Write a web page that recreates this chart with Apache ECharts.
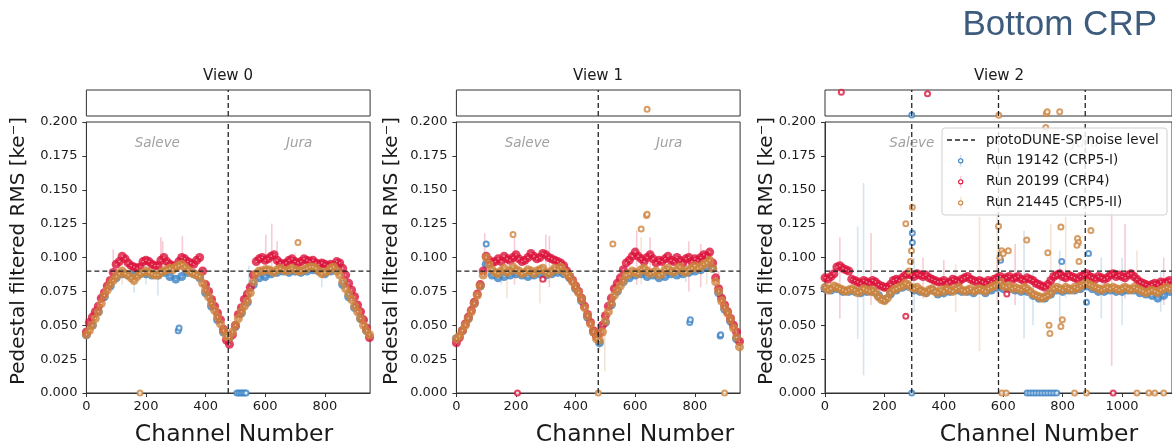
<!DOCTYPE html>
<html><head><meta charset="utf-8">
<script src="https://cdn.jsdelivr.net/npm/echarts@6/dist/echarts.min.js"></script>
<style>html,body{margin:0;padding:0;background:#fff}#c{width:1172px;height:446px}</style>
</head><body><div id="c"></div>
<script>
// ---------------- data ----------------
const viewNames = ['View 0', 'View 1', 'View 2'];
const channelCount = [952, 952, 1168];
const xTickStep = 200;
const yMin = 0, yMax = 0.2, yTickStep = 0.025;
const topMin = 0.2, topMax = 0.3;
const noiseLevel = 0.09;
const dividers = [[476], [476], [292, 584, 876]];
const regionNames = ['Saleve', 'Jura'];
const regionCenters = [[238, 714], [238, 714], [292, 876]];
const runNames = ['Run 19142 (CRP5-I)', 'Run 20199 (CRP4)', 'Run 21445 (CRP5-II)'];
const noiseName = 'protoDUNE-SP noise level';

// sampled channel positions
const steps = (step, n) => Array.from({length: n}, (_, i) => i * step);
const v0_ch10 = steps(10, 96), v0_ch20 = steps(20, 48);
const v1_ch10 = steps(10, 96), v1_ch20 = steps(20, 48);
const v2_ch10 = steps(10, 117), v2_ch20 = steps(20, 59);

// View 0
const v0_blue = [.043,.050,.060,.071,.079,.085,.088,.087,.087,.088,
 .088,.087,.087,.089,.086,.084,.086,.089,.088,.085,
 .074,.064,.054,.045,.041,.049,.059,.067,.080,.085,
 .086,.088,.089,.090,.089,.090,.089,.090,.091,.090,
 .088,.090,.094,.080,.071,.063,.055,.046];
const v0_red = [.045,.052,.056,.060,.064,.070,.074,.079,.083,.089,
 .095,.097,.101,.099,.096,.094,.093,.092,.093,.097,
 .098,.097,.095,.094,.094,.098,.100,.097,.095,.094,
 .093,.097,.100,.099,.097,.096,.095,.098,.100,.090,
 .080,.075,.069,.064,.059,.054,.047,.039,.036,.043,
 .050,.058,.063,.069,.073,.078,.087,.097,.099,.100,
 .098,.099,.101,.102,.098,.096,.095,.096,.098,.099,
 .097,.096,.097,.099,.098,.097,.098,.096,.095,.096,
 .095,.094,.095,.094,.097,.096,.092,.087,.081,.076,
 .071,.065,.060,.054,.048,.041];
const v0_orange = [.043,.046,.050,.055,.060,.066,.072,.076,.080,.083,
 .086,.088,.090,.088,.087,.085,.083,.086,.088,.089,
 .090,.089,.088,.087,.087,.089,.090,.091,.092,.091,
 .093,.094,.095,.093,.091,.089,.088,.087,.086,.081,
 .076,.071,.066,.061,.056,.051,.046,.042,.041,.045,
 .050,.055,.060,.064,.068,.074,.082,.088,.090,.090,
 .091,.091,.090,.089,.091,.092,.091,.090,.091,.092,
 .091,.090,.090,.091,.092,.093,.093,.092,.090,.088,
 .089,.090,.092,.093,.090,.087,.082,.077,.073,.069,
 .064,.060,.055,.050,.046,.043];
const v0_blue_out = [[308,.046],[311,.048],[505,0],[512,0],[518,0],[524,0],[530,0],[536,0]];
const v0_red_out = [];
const v0_orange_out = [[180,0],[710,.111]];
const v0_top = [[], [], []];
const v0_err = [[90,.080,.106,1],[250,.084,.115,1],[256,.088,.112,1],[322,.086,.116,1],[602,.082,.117,1],[622,.088,.125,1],[640,.090,.112,1],
 [160,.074,.096,0],[240,.072,.096,0],[200,.080,.098,0],[790,.078,.098,0],[545,.078,.094,0],
 [120,.080,.098,2],[700,.086,.104,2],[860,.082,.095,2]];

// View 1
const v1_blue = [.040,.046,.055,.066,.079,.095,.087,.085,.086,.087,
 .088,.087,.086,.087,.088,.087,.088,.089,.088,.085,
 .077,.068,.056,.045,.037,.052,.065,.075,.082,.085,
 .087,.088,.086,.087,.085,.086,.088,.087,.088,.089,
 .090,.091,.093,.092,.074,.062,.053,.040];
const v1_red = [.037,.041,.046,.051,.056,.061,.067,.073,.080,.090,
 .101,.098,.096,.097,.099,.097,.101,.099,.098,.100,
 .102,.099,.097,.098,.100,.103,.101,.099,.100,.103,
 .102,.100,.099,.098,.097,.096,.094,.090,.086,.083,
 .079,.075,.070,.064,.058,.052,.046,.042,.044,.050,
 .057,.064,.070,.077,.081,.085,.091,.096,.098,.101,
 .104,.101,.099,.097,.100,.102,.099,.096,.098,.097,
 .099,.101,.098,.097,.100,.098,.096,.099,.100,.097,
 .099,.098,.100,.102,.101,.104,.096,.085,.077,.070,
 .065,.060,.055,.050,.045,.038];
const v1_orange = [.040,.042,.046,.050,.055,.060,.066,.072,.079,.087,
 .100,.095,.091,.089,.088,.090,.092,.089,.090,.093,
 .091,.090,.088,.089,.091,.090,.088,.090,.091,.092,
 .089,.088,.090,.092,.091,.093,.090,.088,.086,.082,
 .078,.074,.069,.063,.057,.051,.045,.040,.039,.045,
 .053,.060,.066,.072,.076,.079,.083,.087,.088,.090,
 .089,.088,.091,.092,.090,.088,.089,.090,.087,.088,
 .091,.092,.090,.089,.091,.093,.090,.089,.091,.092,
 .094,.092,.093,.095,.096,.098,.092,.082,.075,.068,
 .063,.059,.054,.048,.041,.034];
const v1_blue_out = [[100,.110],[783,.052],[785,.054],[885,.042],[887,.043]];
const v1_red_out = [[205,0],[290,.084]];
const v1_orange_out = [[190,.117],[525,.110],[620,.121],[638,.131],[640,.132],[476,0],[900,0]];
const v1_top = [[], [], [[640,.226]]];
const v1_err = [[95,.085,.118,1],[195,.080,.115,1],[300,.082,.117,1],[312,.078,.116,1],[605,.080,.120,1],[650,.085,.115,1],[780,.075,.112,1],[820,.078,.110,1],[880,.065,.090,1],
 [170,.070,.100,2],[280,.066,.095,2],[498,.016,.053,2],[620,.080,.115,2],[840,.080,.105,2],[480,.030,.050,2],
 [150,.080,.095,0],[770,.082,.100,0]];

// View 2
const v2_blue = [.077,.076,.077,.075,.075,.075,.074,.075,.075,.072,
 .069,.073,.076,.078,.079,.076,.075,.074,.076,.073,
 .074,.075,.076,.075,.075,.074,.076,.074,.076,.078,
 .077,.077,.076,.075,.075,.072,.070,.070,.073,.076,
 .075,.076,.076,.077,.079,.077,.075,.075,.076,.075,
 .075,.076,.076,.074,.073,.072,.070,.072,.075];
const v2_red = [.085,.084,.086,.088,.093,.094,.092,.091,.090,.084,
 .083,.082,.081,.083,.082,.081,.083,.082,.080,.079,
 .078,.078,.080,.083,.084,.083,.085,.087,.088,.087,
 .086,.088,.087,.086,.087,.085,.084,.083,.082,.082,
 .083,.081,.082,.084,.083,.082,.084,.085,.086,.084,
 .083,.082,.083,.082,.081,.083,.082,.084,.085,.086,
 .084,.085,.086,.084,.085,.086,.084,.083,.085,.084,
 .083,.081,.080,.079,.078,.080,.083,.086,.087,.088,
 .086,.085,.087,.086,.085,.084,.086,.087,.088,.086,
 .085,.084,.086,.085,.084,.085,.087,.088,.086,.087,
 .086,.085,.087,.088,.086,.084,.082,.081,.080,.079,
 .080,.081,.080,.082,.081,.082,.083];
const v2_orange = [.078,.076,.077,.079,.078,.077,.076,.075,.076,.077,
 .076,.074,.075,.077,.076,.075,.076,.074,.071,.069,
 .068,.070,.074,.076,.077,.078,.079,.081,.080,.078,
 .077,.078,.076,.075,.074,.076,.077,.075,.074,.076,
 .075,.077,.076,.075,.077,.078,.076,.075,.076,.077,
 .075,.076,.077,.076,.075,.077,.078,.079,.080,.082,
 .079,.078,.079,.077,.078,.077,.076,.078,.077,.075,
 .073,.072,.071,.070,.071,.072,.074,.077,.078,.077,
 .076,.078,.077,.076,.078,.077,.079,.080,.081,.080,
 .079,.078,.077,.076,.077,.078,.077,.078,.077,.076,
 .077,.078,.077,.076,.078,.077,.076,.075,.074,.075,
 .076,.075,.074,.076,.077,.078,.077];
const v2_blue_out = [[294,.118],[294,.111],[591,.098],[797,.097],[887,.103],[880,.067],[292,0],
 [680,0],[690,0],[700,0],[710,0],[720,0],[730,0],[740,0],[750,0],[760,0],[770,0],[780,0]];
const v2_red_out = [[272,.0566],[612,.073],[970,0]];
const v2_orange_out = [[272,.125],[294,.137],[291,.105],[288,.097],[283,.090],[584,.123],[589,.100],[595,.105],[600,.103],[617,.105],
 [679,.113],[743,.196],[750,.1035],[794,.1225],[850,.114],[853,.111],[848,.109],[855,.097],[895,.120],
 [754,.050],[757,.044],[794,.049],[799,.054],[595,0],[610,0],[840,0],[880,0],[1050,0],[1090,0],[1110,0],[1140,0]];
const v2_top = [[[292,.204]], [[55,.291],[345,.286]], [[585,.203],[745,.210],[748,.216],[790,.2165]]];
const v2_err = [[110,.040,.123,0],[130,.013,.155,0],[300,.060,.100,0],[670,.040,.120,0],[790,.050,.105,0],[700,.050,.090,0],[1000,.050,.100,0],[1130,.060,.090,0],[930,.055,.100,0],
 [50,.055,.115,1],[155,.065,.118,1],[330,.070,.100,1],[400,.070,.098,1],[640,.065,.110,1],[965,.020,.140,1],[1010,.070,.125,1],[1140,.065,.100,1],[580,.065,.100,1],
 [520,.031,.130,2],[580,.090,.140,2],[760,.080,.125,2],[810,.070,.130,2],[1050,.075,.105,2],[440,.060,.095,2]];

// ---------------- assembly ----------------
const zip = (xs, ys) => ys.map((y, i) => [xs[i], y]);
const panels = [
  { bands: [zip(v0_ch20, v0_blue), zip(v0_ch10, v0_red), zip(v0_ch10, v0_orange)], outs: [v0_blue_out, v0_red_out, v0_orange_out], top: v0_top, err: v0_err },
  { bands: [zip(v1_ch20, v1_blue), zip(v1_ch10, v1_red), zip(v1_ch10, v1_orange)], outs: [v1_blue_out, v1_red_out, v1_orange_out], top: v1_top, err: v1_err },
  { bands: [zip(v2_ch20, v2_blue), zip(v2_ch10, v2_red), zip(v2_ch10, v2_orange)], outs: [v2_blue_out, v2_red_out, v2_orange_out], top: v2_top, err: v2_err }
];

const runColors = ['#3b82c4', '#dc143c', '#cd853f'];
const FONT = 'DejaVu Sans';
const TXT = '#1a1a1a';
const gridLeft = [86.4, 456.4, 825];
const gridWidth = [283.7, 283.7, 348];
const mainTop = 122, mainH = 271, topTop = 90, topH = 26;

const grids = [], xAxes = [], yAxes = [], series = [];
for (let p = 0; p < 3; p++) {
  grids.push({ left: gridLeft[p], top: mainTop, width: gridWidth[p], height: mainH, show: true, borderColor: '#333', borderWidth: 1, backgroundColor: 'transparent' });
}
for (let p = 0; p < 3; p++) {
  grids.push({ left: gridLeft[p], top: topTop, width: gridWidth[p], height: topH, show: true, borderColor: '#333', borderWidth: 1, backgroundColor: 'transparent' });
}
for (let p = 0; p < 3; p++) {
  xAxes.push({ gridIndex: p, type: 'value', min: 0, max: channelCount[p], interval: xTickStep,
    axisLine: { show: true, onZero: false, lineStyle: { color: '#333', width: 1 } },
    axisTick: { show: true, length: 4, lineStyle: { color: '#333' } },
    axisLabel: { fontFamily: FONT, fontSize: 13, color: TXT, margin: 7, showMaxLabel: false, formatter: v => String(v) },
    splitLine: { show: false } });
  yAxes.push({ gridIndex: p, type: 'value', min: yMin, max: yMax, interval: yTickStep,
    axisLine: { show: true, onZero: false, lineStyle: { color: '#333', width: 1 } },
    axisTick: { show: true, length: 4, lineStyle: { color: '#333' } },
    axisLabel: { fontFamily: FONT, fontSize: 13, color: TXT, margin: 9, formatter: v => v.toFixed(3) },
    splitLine: { show: false } });
}
for (let p = 0; p < 3; p++) {
  xAxes.push({ gridIndex: p + 3, type: 'value', min: 0, max: channelCount[p], show: false, splitLine: { show: false } });
  yAxes.push({ gridIndex: p + 3, type: 'value', min: topMin, max: topMax, show: false, splitLine: { show: false } });
}

const dashStyle = { color: '#222', width: 1.3, type: [5, 3] };
for (let p = 0; p < 3; p++) {
  const P = panels[p];
  // error bars
  series.push({ type: 'custom', xAxisIndex: p, yAxisIndex: p, z: 1, silent: true, data: P.err,
    encode: { x: 0, y: [1, 2] },
    renderItem: (params, api) => {
      const a = api.coord([api.value(0), api.value(1)]);
      const b = api.coord([api.value(0), api.value(2)]);
      return { type: 'line', shape: { x1: a[0], y1: a[1], x2: b[0], y2: b[1] },
        style: { stroke: runColors[api.value(3)], lineWidth: 1.6, opacity: 0.22 } };
    } });
  // scatter runs: solid marker band + light ring centres
  for (let r = 0; r < 3; r++) {
    series.push({ type: 'scatter', name: runNames[r], xAxisIndex: p, yAxisIndex: p, z: 2, silent: true,
      symbol: 'circle', symbolSize: 9, data: P.bands[r],
      itemStyle: { color: runColors[r] } });
    series.push({ type: 'scatter', name: runNames[r], xAxisIndex: p, yAxisIndex: p, z: 2, silent: true,
      symbol: 'circle', symbolSize: 1.6, data: P.bands[r],
      itemStyle: { color: 'rgba(255,255,255,0.7)' } });
  }
  for (let r = 0; r < 3; r++) {
    series.push({ type: 'scatter', name: runNames[r], xAxisIndex: p, yAxisIndex: p, z: 5, silent: true,
      symbol: 'emptyCircle', symbolSize: 5, data: P.outs[r],
      itemStyle: { color: runColors[r], borderWidth: 1.2 } });
    series.push({ type: 'scatter', name: runNames[r], xAxisIndex: p + 3, yAxisIndex: p + 3, z: 5, silent: true,
      symbol: 'emptyCircle', symbolSize: 5, data: P.top[r],
      itemStyle: { color: runColors[r], borderWidth: 1.2 } });
  }
  // noise level
  series.push({ type: 'line', name: noiseName, xAxisIndex: p, yAxisIndex: p, z: 8, silent: true, symbol: 'none',
    data: [[0, noiseLevel], [channelCount[p], noiseLevel]], lineStyle: dashStyle });
  // dividers
  dividers[p].forEach(d => {
    series.push({ type: 'line', xAxisIndex: p, yAxisIndex: p, z: 8, silent: true, symbol: 'none',
      data: [[d, yMin], [d, yMax]], lineStyle: dashStyle });
    series.push({ type: 'line', xAxisIndex: p + 3, yAxisIndex: p + 3, z: 8, silent: true, symbol: 'none',
      data: [[d, topMin], [d, topMax]], lineStyle: dashStyle });
  });
  // region labels
  series.push({ type: 'scatter', xAxisIndex: p, yAxisIndex: p, z: 9, silent: true, symbolSize: 1,
    itemStyle: { color: 'transparent' },
    data: regionCenters[p].map((c, i) => ({ value: [c, 0.1845], name: regionNames[i] })),
    label: { show: true, position: 'inside', formatter: d => d.name, fontFamily: FONT, fontStyle: 'italic', fontSize: 13.5, color: '#8a8a8a' } });
}

// ---------------- text & legend graphics ----------------
const graphics = [];
graphics.push({ type: 'text', x: 1157, y: 25.5, z: 100, style: { text: 'Bottom CRP', fontFamily: 'Liberation Sans', fontSize: 35, fill: '#3d5b7d', align: 'right', verticalAlign: 'middle' } });
const viewCenters = [228, 598, 999];
const xLabelCenters = [234, 635, 1039];
const yLabelX = [18.5, 392, 767];
for (let p = 0; p < 3; p++) {
  graphics.push({ type: 'text', x: viewCenters[p], y: 76, z: 100, style: { text: viewNames[p], fontFamily: FONT, fontSize: 15, fill: TXT, align: 'center', verticalAlign: 'middle' } });
  graphics.push({ type: 'text', x: xLabelCenters[p], y: 435, z: 100, style: { text: 'Channel Number', fontFamily: FONT, fontSize: 23.5, fill: TXT, align: 'center', verticalAlign: 'middle' } });
  graphics.push({ type: 'text', x: yLabelX[p], y: 251, rotation: Math.PI / 2, z: 100, style: { text: 'Pedestal filtered RMS [ke\u207B]', fontFamily: FONT, fontSize: 20, fill: TXT, align: 'center', verticalAlign: 'middle' } });
}
// legend
const lg = { x: 942, y: 128, w: 225, h: 87 };
graphics.push({ type: 'rect', z: 100, shape: { x: lg.x, y: lg.y, width: lg.w, height: lg.h, r: 3 }, style: { fill: 'rgba(255,255,255,0.82)', stroke: '#cfcfcf', lineWidth: 1 } });
graphics.push({ type: 'line', z: 101, shape: { x1: 947, y1: 140, x2: 975, y2: 140 }, style: { stroke: '#222', lineWidth: 1.3, lineDash: [5, 3] } });
graphics.push({ type: 'text', z: 101, x: 986, y: 140, style: { text: noiseName, fontFamily: FONT, fontSize: 13.5, fill: TXT, verticalAlign: 'middle' } });
for (let r = 0; r < 3; r++) {
  const yy = 160.8 + 21 * r;
  graphics.push({ type: 'line', z: 101, shape: { x1: 960.7, y1: yy - 6, x2: 960.7, y2: yy + 6 }, style: { stroke: runColors[r], lineWidth: 1.6, opacity: 0.22 } });
  graphics.push({ type: 'circle', z: 102, shape: { cx: 960.7, cy: yy, r: 2.1 }, style: { fill: '#fff', stroke: runColors[r], lineWidth: 1.1 } });
  graphics.push({ type: 'text', z: 101, x: 986, y: yy, style: { text: runNames[r], fontFamily: FONT, fontSize: 13.5, fill: TXT, verticalAlign: 'middle' } });
}

const chart = echarts.init(document.getElementById('c'), null, { renderer: 'canvas' });
chart.setOption({
  animation: false,
  backgroundColor: '#ffffff',
  textStyle: { fontFamily: FONT },
  grid: grids, xAxis: xAxes, yAxis: yAxes, series: series, graphic: graphics
});
</script></body></html>
